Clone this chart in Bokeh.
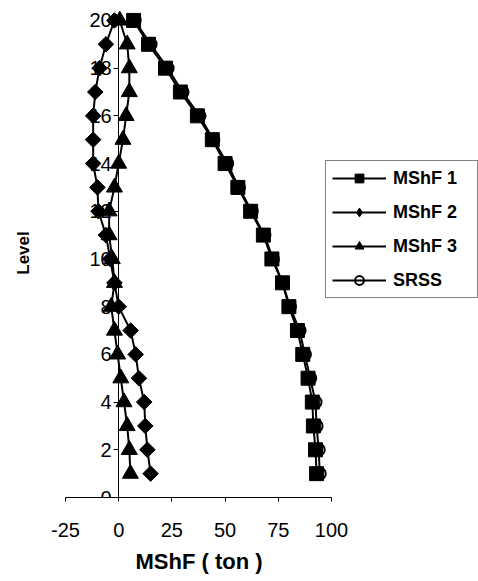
import math
from bokeh.plotting import figure
from bokeh.models import Range1d, FixedTicker, Legend, LegendItem, Title, LinearAxis
from bokeh.embed import file_html
from bokeh.resources import INLINE

levels = list(range(1, 21))
mshf1 = [93, 92.5, 91.5, 91, 89, 86.5, 84, 80, 77, 72, 68, 62, 56, 50, 44, 37, 29, 22, 14, 7]
mshf2 = [15, 13.5, 12.5, 12, 9.5, 8, 5.6, 0, -2, -4, -6, -9.5, -10, -12, -12, -12, -11, -9, -6, -2]
mshf3 = [5.5, 5, 4, 2.5, 1, -0.5, -2, -3.5, -2, -3, -4.5, -4.5, -2, 0, 2, 3.5, 5, 5, 4, 0.5]
srss = [94.5, 94, 93, 92.5, 90, 87.5, 85, 80.5, 77, 72.5, 68.5, 62.5, 56.5, 51, 44.5, 38, 30, 23, 15, 7.5]
series_names = ["MShF 1", "MShF 2", "MShF 3", "SRSS"]
x_ticks = [-25, 0, 25, 50, 75, 100]
y_ticks = [0, 2, 4, 6, 8, 10, 12, 14, 16, 18, 20]

FONT = "Liberation Sans"

p = figure(width=478, height=581, output_backend="svg", toolbar_location=None,
           x_range=Range1d(-25, 169.1), y_range=Range1d(0, 20.5),
           min_border_left=65, min_border_right=0, min_border_top=8, min_border_bottom=84)
p.xgrid.visible = False
p.ygrid.visible = False
p.outline_line_color = None

# series
r1l = p.line(mshf1, levels, line_color="black", line_width=2)
r1m = p.scatter(mshf1, levels, marker="square", size=14, color="black")
r2l = p.line(mshf2, levels, line_color="black", line_width=2)
r2m = p.scatter(mshf2, levels, marker="square", angle=math.pi / 4, size=11, color="black")
r2k = p.scatter(mshf2, levels, marker="diamond", size=20, color="black", visible=False)  # legend key
r3l = p.line(mshf3, levels, line_color="black", line_width=2)
r3m = p.scatter(mshf3, levels, marker="triangle", size=16, color="black")
r4l = p.line(srss, levels, line_color="black", line_width=2)
r4m = p.scatter(srss, levels, marker="circle", size=12, line_color="black", line_width=2,
                fill_alpha=0)

# x axis
xa = p.xaxis[0]
xa.ticker = FixedTicker(ticks=x_ticks)
xa.bounds = (-25, 100)
xa.major_label_overrides = {-25: "-25"}
xa.minor_tick_line_color = None
xa.major_tick_out = 4
xa.major_tick_in = 0
xa.major_label_standoff = 21
xa.major_label_text_font = FONT
xa.major_label_text_font_size = "20px"
xa.major_label_text_color = "black"
xa.axis_line_color = "black"

# y axis crossing at x = 0
ya = p.yaxis[0]
ya.fixed_location = 0
ya.ticker = FixedTicker(ticks=y_ticks)
ya.bounds = (0, 20)
ya.minor_tick_line_color = None
ya.major_tick_out = 5
ya.major_tick_in = 0
ya.major_label_standoff = 2
ya.major_label_text_font = FONT
ya.major_label_text_font_size = "20px"
ya.major_label_text_color = "black"
ya.axis_line_color = "black"

# "Level" title on the left edge (label-only axis)
lab_axis = LinearAxis(ticker=FixedTicker(ticks=[]), axis_label="Level",
                      axis_line_color=None, major_tick_line_color=None,
                      minor_tick_line_color=None, major_tick_out=0, major_tick_in=0,
                      axis_label_standoff=33, axis_label_text_font=FONT,
                      axis_label_text_font_size="17px", axis_label_text_font_style="bold",
                      axis_label_text_color="black")
p.add_layout(lab_axis, "left")

p.add_layout(Title(text="MShF ( ton )", align="left", offset=70, standoff=14,
                   text_font=FONT, text_font_size="22px", text_font_style="bold",
                   text_color="black"), "below")

legend = Legend(items=[
    LegendItem(label=series_names[0], renderers=[r1l, r1m]),
    LegendItem(label=series_names[1], renderers=[r2l, r2k]),
    LegendItem(label=series_names[2], renderers=[r3l, r3m]),
    LegendItem(label=series_names[3], renderers=[r4l, r4m]),
], location=(260, 199))
legend.border_line_color = "black"
legend.border_line_width = 1
legend.padding = 6
legend.spacing = 12
legend.margin = 0
legend.glyph_height = 22
legend.label_height = 22
legend.glyph_width = 54
legend.label_width = 78
legend.label_standoff = 7
legend.label_text_font = FONT
legend.label_text_font_size = "18px"
legend.label_text_font_style = "bold"
legend.label_text_color = "black"
legend.background_fill_alpha = 1
p.add_layout(legend)

open("out.html", "w").write(file_html(p, INLINE))
